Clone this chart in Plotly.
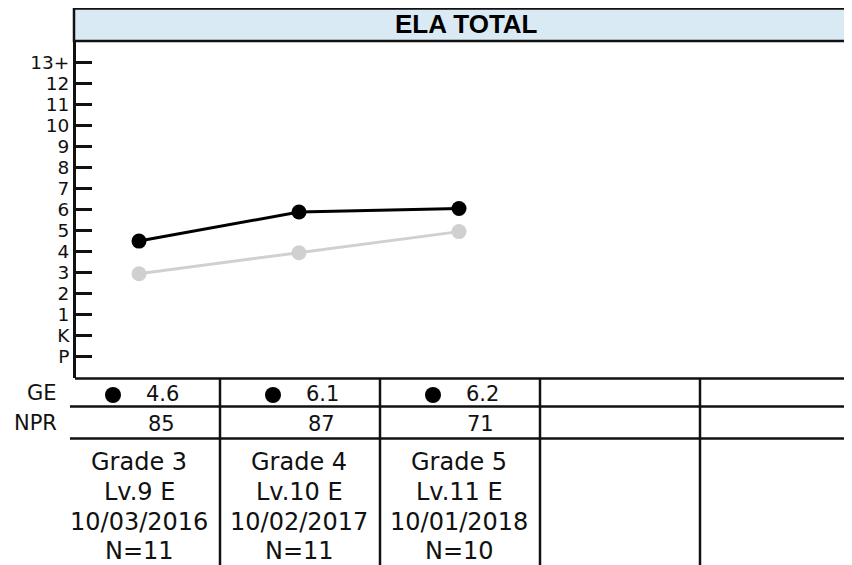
import plotly.graph_objects as go

# ---------------- data ----------------
title = "ELA TOTAL"
tick_vals = list(range(-1, 14))
tick_text = ["P", "K", "1", "2", "3", "4", "5", "6", "7", "8", "9", "10", "11", "12", "13+"]

test_pos = [0, 1, 2]                   # column index of each test
ge_plotted = [4.5, 5.88, 6.05]         # black line (as drawn)
expected_plotted = [2.95, 3.95, 4.95]  # grey line (as drawn)

ge_values = ["4.6", "6.1", "6.2"]
npr_values = ["85", "87", "71"]
grades = ["Grade 3", "Grade 4", "Grade 5"]
levels = ["Lv.9 E", "Lv.10 E", "Lv.11 E"]
dates = ["10/03/2016", "10/02/2017", "10/01/2018"]
n_counts = ["N=11", "N=11", "N=10"]
n_columns = 5

# ---------------- layout helpers ----------------
W, H = 852, 565
OFF = 8  # page body margin
def px(x):
    return (x - OFF) / W
def py(y):
    return 1 - (y - OFF) / H

PLOT_L, PLOT_T, PLOT_B = 76, 41, 378
COL_W = 160
COL0 = 139  # page-pixel centre of first column

x_lo = -(COL0 - PLOT_L) / COL_W
x_hi = x_lo + (W + OFF - PLOT_L) / COL_W

fig = go.Figure()

fig.add_trace(go.Scatter(
    x=test_pos, y=expected_plotted, mode="lines+markers",
    line=dict(color="#d0d0d0", width=3),
    marker=dict(color="#d0d0d0", size=15),
    showlegend=False, hoverinfo="skip"))
fig.add_trace(go.Scatter(
    x=test_pos, y=ge_plotted, mode="lines+markers",
    line=dict(color="#000000", width=3),
    marker=dict(color="#000000", size=15),
    showlegend=False, hoverinfo="skip"))

shapes = []
# header box
shapes.append(dict(type="rect", xref="paper", yref="paper",
                   x0=px(74), x1=px(880), y0=py(41), y1=py(8.5),
                   fillcolor="#DAEAF4", line=dict(color="#111", width=2.5), layer="below"))
# chart bottom line
shapes.append(dict(type="line", xref="paper", yref="paper",
                   x0=px(75), x1=px(W + 20), y0=py(378.5), y1=py(378.5),
                   line=dict(color="#111", width=2.5)))
# GE row line, NPR row line
for yy in (406.5, 438.5):
    shapes.append(dict(type="line", xref="paper", yref="paper",
                       x0=px(70), x1=px(W + 20), y0=py(yy), y1=py(yy),
                       line=dict(color="#111", width=2.5)))
# column separators
for i in range(1, n_columns):
    xx = COL0 + COL_W * i - COL_W / 2 + 1
    shapes.append(dict(type="line", xref="paper", yref="paper",
                       x0=px(xx), x1=px(xx), y0=py(378), y1=py(H + 20),
                       line=dict(color="#111", width=2.5)))

annotations = []
annotations.append(dict(text="<b>" + title + "</b>", xref="paper", yref="paper",
                        x=px(466), y=py(24.5), showarrow=False,
                        xanchor="center", yanchor="middle",
                        font=dict(family="Liberation Sans, Arial", size=26, color="#000")))
tf = dict(family="DejaVu Sans", size=21, color="#111")
annotations.append(dict(text="GE", xref="paper", yref="paper", x=px(59), y=py(393),
                        showarrow=False, xanchor="right", yanchor="middle", font=tf))
annotations.append(dict(text="NPR", xref="paper", yref="paper", x=px(59), y=py(423),
                        showarrow=False, xanchor="right", yanchor="middle", font=tf))

line_y = [460.5, 491.0, 521.0, 549.5]
for i, c in enumerate(test_pos):
    cx = COL0 + COL_W * c
    # bullet
    shapes.append(dict(type="circle", xref="paper", yref="paper",
                       x0=px(cx - 26 - 8), x1=px(cx - 26 + 8),
                       y0=py(395 + 8), y1=py(395 - 8),
                       fillcolor="#000", line=dict(width=0)))
    annotations.append(dict(text=ge_values[i], xref="paper", yref="paper",
                            x=px(cx + 23), y=py(394), showarrow=False,
                            xanchor="center", yanchor="middle", font=tf))
    annotations.append(dict(text=npr_values[i], xref="paper", yref="paper",
                            x=px(cx + 22), y=py(424), showarrow=False,
                            xanchor="center", yanchor="middle", font=tf))
    for txt, yy in zip([grades[i], levels[i], dates[i], n_counts[i]], line_y):
        annotations.append(dict(text=txt, xref="paper", yref="paper",
                                x=px(cx), y=py(yy + 1), showarrow=False,
                                xanchor="center", yanchor="middle",
                                font=dict(family="DejaVu Sans", size=24, color="#111")))

fig.update_layout(
    width=W, height=H,
    margin=dict(l=0, r=0, t=0, b=0),
    paper_bgcolor="white", plot_bgcolor="white",
    shapes=shapes, annotations=annotations,
    xaxis=dict(domain=[px(PLOT_L), 1], range=[x_lo, x_hi], visible=False),
    yaxis=dict(domain=[py(PLOT_B), py(PLOT_T)], range=[-2, 14],
               tickvals=tick_vals, ticktext=tick_text,
               showline=True, linecolor="#111", linewidth=3,
               ticks="inside", ticklen=16, tickwidth=3, tickcolor="#111",
               showgrid=False, zeroline=False,
               tickfont=dict(family="DejaVu Sans", size=18.5, color="#111")),
)

fig.write_html("out.html")
